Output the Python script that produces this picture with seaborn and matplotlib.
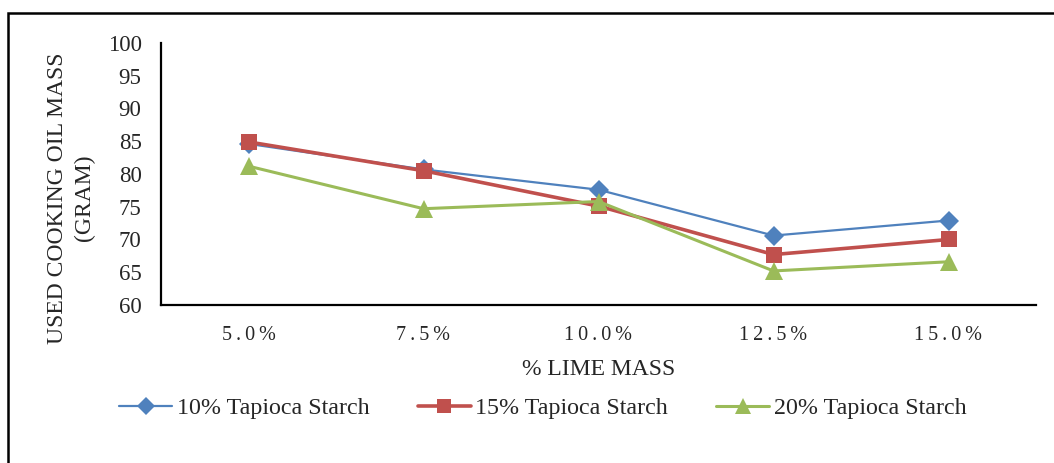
import matplotlib
matplotlib.use("Agg")
import matplotlib.pyplot as plt
from matplotlib.patches import Rectangle
import seaborn as sns
import pandas as pd

# Lime mass levels and used cooking oil mass (gram) for each starch dosage
lime_mass = ["5.0%", "7.5%", "10.0%", "12.5%", "15.0%"]
starch_10 = [84.6, 80.7, 77.6, 70.6, 72.9]
starch_15 = [84.9, 80.5, 75.1, 67.7, 70.0]
starch_20 = [81.2, 74.7, 75.8, 65.2, 66.6]
series_names = ["10% Tapioca Starch", "15% Tapioca Starch", "20% Tapioca Starch"]
y_ticks = [60, 65, 70, 75, 80, 85, 90, 95, 100]

frames = []
for name, vals in zip(series_names, [starch_10, starch_15, starch_20]):
    frames.append(pd.DataFrame({"lime": lime_mass, "oil": vals, "series": name}))
df = pd.concat(frames, ignore_index=True)

sns.set_style("white")
plt.rcParams["font.family"] = ["Liberation Serif", "DejaVu Serif"]

fig = plt.figure(figsize=(10.54, 4.63), dpi=100)
ax = fig.add_axes([161 / 1054, 1 - 305 / 463, 875 / 1054, 262 / 463])

palette = {series_names[0]: "#4F81BD", series_names[1]: "#C0504D", series_names[2]: "#9BBB59"}
markers = {series_names[0]: "D", series_names[1]: "s", series_names[2]: "^"}

sns.lineplot(data=df, x="lime", y="oil", hue="series", style="series",
             palette=palette, markers=markers, dashes=False, sort=False,
             markersize=10, markeredgewidth=0, ax=ax, legend=False)

widths = [1.6, 2.6, 2.2]
msizes = [10.5, 12, 13]
for line, w, ms in zip(ax.lines, widths, msizes):
    line.set_linewidth(w)
    line.set_markersize(ms)

ax.set_xlim(-0.5, 4.5)
ax.set_ylim(60, 100)
ax.set_yticks(y_ticks)
ax.set_yticklabels([str(v) for v in y_ticks], fontsize=16.5)
ax.set_xticks(range(len(lime_mass)))
spaced = ["\u2009".join(list(lbl)) for lbl in lime_mass]
ax.set_xticklabels(spaced, fontsize=14.5)
ax.tick_params(axis="y", length=0, pad=14)
ax.tick_params(axis="x", length=0, pad=15)

for side in ["top", "right"]:
    ax.spines[side].set_visible(False)
for side in ["left", "bottom"]:
    ax.spines[side].set_color("black")
    ax.spines[side].set_linewidth(1.6)

ax.set_xlabel("% LIME MASS", fontsize=17, labelpad=10)
ax.set_ylabel("")
fig.text(71 / 1054, 1 - 198 / 463, "USED COOKING OIL MASS\n(GRAM)", rotation=90,
         ha="center", va="center", fontsize=17, linespacing=1.35, multialignment="center")

handles = []
for name, w, ms in zip(series_names, widths, msizes):
    h, = ax.plot([], [], color=palette[name], marker=markers[name], lw=w,
                 markersize=ms * 0.85, markeredgewidth=0)
    handles.append(h)
fig.legend(handles, series_names, loc="center", bbox_to_anchor=(543 / 1054, 1 - 408 / 463),
           ncol=3, frameon=False, fontsize=17.3, handlelength=2.2, handletextpad=0.2,
           columnspacing=2.0)

# outer border of the figure panel
fig.patches.append(Rectangle((8 / 1054, -0.05), 1.2, 1 - 13 / 463 + 0.05,
                             transform=fig.transFigure, fill=False,
                             edgecolor="black", linewidth=1.8))

fig.savefig("out.png", dpi=100)
